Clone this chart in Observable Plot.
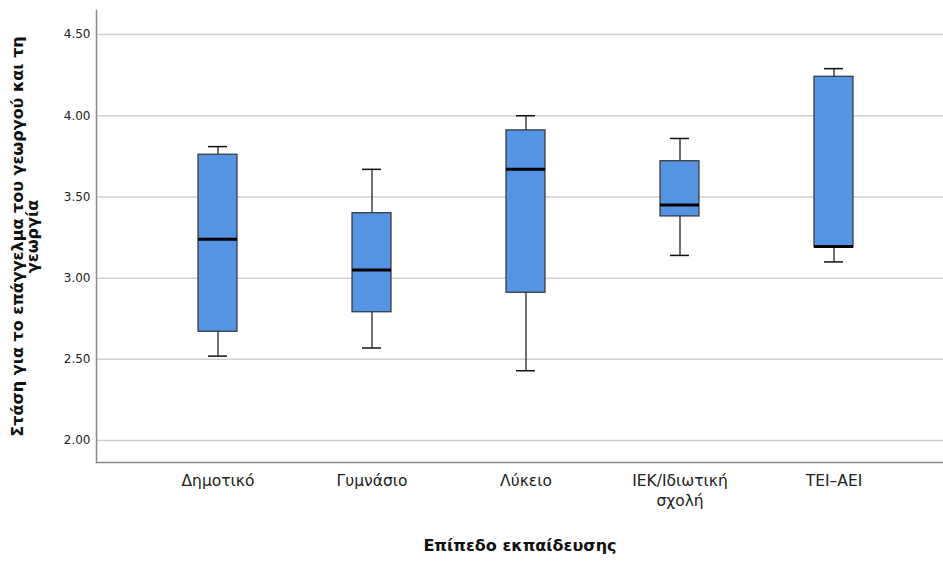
<!DOCTYPE html>
<html>
<head>
<meta charset="utf-8">
<script src="https://cdn.jsdelivr.net/npm/d3@7"></script>
<script src="https://cdn.jsdelivr.net/npm/@observablehq/plot@0.6"></script>
<style>
  body { margin: 0; background: #fff; }
  svg { font-family: "DejaVu Sans", sans-serif; }
</style>
</head>
<body>
<div id="chart"></div>
<script>
const categories = ["Δημοτικό", "Γυμνάσιο", "Λύκειο", "ΙΕΚ/Ιδιωτική σχολή", "ΤΕΙ–ΑΕΙ"];
const whiskerLow  = [2.52, 2.57, 2.43, 3.14, 3.10];
const q1          = [2.67, 2.79, 2.91, 3.38, 3.19];
const median      = [3.24, 3.05, 3.67, 3.45, 3.195];
const q3          = [3.76, 3.40, 3.91, 3.72, 4.24];
const whiskerHigh = [3.81, 3.67, 4.00, 3.86, 4.29];
const yTicks = [2.0, 2.5, 3.0, 3.5, 4.0, 4.5];
const yTitle = "Στάση για το επάγγελμα του γεωργού και τη\nγεωργία";
const xTitle = "Επίπεδο εκπαίδευσης";

const data = categories.map((c, i) => ({
  cat: c, lo: whiskerLow[i], q1: q1[i], med: median[i], q3: q3[i], hi: whiskerHigh[i]
}));

const chart = Plot.plot({
  width: 943,
  height: 563,
  marginLeft: 96,
  marginRight: 0,
  marginTop: 10,
  marginBottom: 101,
  style: { fontFamily: "DejaVu Sans, sans-serif", color: "#222" },
  x: { type: "band", domain: categories, paddingInner: 0.748, paddingOuter: 0.579, insetLeft: 11, label: null },
  y: { domain: [1.865, 4.648], label: null },
  marks: [
    Plot.gridY(yTicks, { stroke: "#cfcfcf", strokeOpacity: 1, strokeWidth: 1.5 }),
    Plot.frame({ anchor: "left", stroke: "#8a8a8a", strokeWidth: 1.5 }),
    Plot.frame({ anchor: "bottom", stroke: "#8a8a8a", strokeWidth: 1.5 }),
    Plot.axisY(yTicks, { tickSize: 0, tickPadding: 6, tickFormat: d3.format(".2f"), fontSize: 12, label: null }),
    Plot.axisX({ tickSize: 0, tickPadding: 9, fontSize: 15.5, lineHeight: 1.3,
      tickFormat: d => d === "ΙΕΚ/Ιδιωτική σχολή" ? "ΙΕΚ/Ιδιωτική\nσχολή" : d, label: null }),
    Plot.ruleX(data, { x: "cat", y1: "lo", y2: "hi", stroke: "#111", strokeWidth: 1.2 }),
    Plot.tickY(data, { x: "cat", y: "lo", stroke: "#111", strokeWidth: 1.5, insetLeft: 10, insetRight: 10 }),
    Plot.tickY(data, { x: "cat", y: "hi", stroke: "#111", strokeWidth: 1.5, insetLeft: 10, insetRight: 10 }),
    Plot.barY(data, { x: "cat", y1: "q1", y2: "q3", fill: "#5593e3", stroke: "#333", strokeWidth: 1.2 }),
    Plot.tickY(data, { x: "cat", y: "med", stroke: "#000", strokeWidth: 3 }),
    Plot.text([yTitle], { frameAnchor: "left", rotate: -90, dx: -71, fontSize: 16, fontWeight: "bold", textAnchor: "middle", lineAnchor: "middle", lineHeight: 0.95, fill: "#111" }),
    Plot.text([xTitle], { frameAnchor: "bottom", dy: 88, fontSize: 16, fontWeight: "bold", fill: "#111" })
  ]
});
document.getElementById("chart").appendChild(chart);
</script>
</body>
</html>
